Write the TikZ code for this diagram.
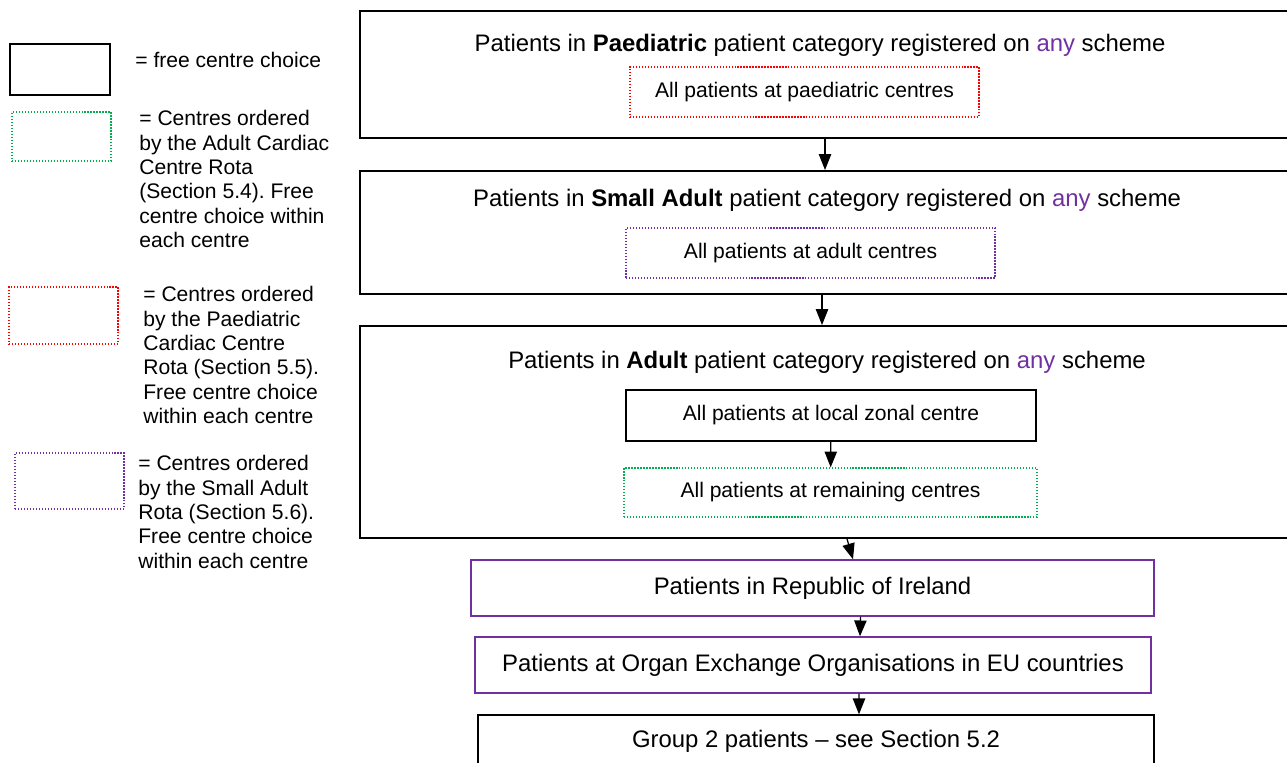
\documentclass[tikz,border=0pt]{standalone}
\usepackage{fontspec}
\setmainfont{Liberation Sans}
\usetikzlibrary{arrows.meta}
\definecolor{rotagreen}{RGB}{0,176,80}
\definecolor{rotared}{RGB}{255,0,0}
\definecolor{rotapurple}{RGB}{112,48,160}
\frenchspacing

\begin{document}
\begin{tikzpicture}[x=0.02cm, y=-0.02cm,
    every node/.append style={font=\fontsize{12}{13.9}\selectfont, inner sep=0pt},
    bigtext/.style={font=\fontsize{13.6}{15}\selectfont},
    bigbox/.style={draw, line width=1.1pt, minimum width=18.6cm},
    freebox/.style={draw, line width=0.8pt},
    adultrota/.style={draw=rotagreen, line width=0.7pt, dash pattern=on 0.7pt off 1pt},
    paedrota/.style={draw=rotared, line width=0.7pt, dash pattern=on 0.7pt off 1pt},
    smallrota/.style={draw=rotapurple, line width=0.7pt, dash pattern=on 0.7pt off 1pt},
    countrybox/.style={draw=rotapurple, line width=0.8pt, bigtext},
    legtext/.style={anchor=north west, align=left},
    flow/.style={-{Triangle[length=9pt,width=7pt]}, line width=0.7pt}]
        \clip (0,0) rectangle (1287,763);

        % legend
        \node [freebox, minimum width=2.0cm, minimum height=1.02cm] (L1) at (60,69.5) {};
        \node [anchor=west] (T1) at (135,60) {= free centre choice};
        \node [adultrota, minimum width=1.98cm, minimum height=0.98cm] (L2) at (61.5,136.5) {};
        \node [legtext] (T2) at (139,110) {= Centres ordered\\by the Adult Cardiac\\Centre Rota\\(Section 5.4). Free\\centre choice within\\each centre};
        \node [paedrota, minimum width=2.18cm, minimum height=1.14cm] (L3) at (63.5,315.5) {};
        \node [legtext] (T3) at (143,286) {= Centres ordered\\by the Paediatric\\Cardiac Centre\\Rota (Section 5.5).\\Free centre choice\\within each centre};
        \node [smallrota, minimum width=2.18cm, minimum height=1.12cm] (L4) at (69.5,481) {};
        \node [legtext] (T4) at (138,455) {= Centres ordered\\by the Small Adult\\Rota (Section 5.6).\\Free centre choice\\within each centre};

        % patient categories
        \node [bigbox, minimum height=2.54cm] (A) at (825,74.5) {};
        \node [bigtext] (AT) at (820,45) {Patients in \textbf{Paediatric} patient category registered on \textcolor{rotapurple}{any} scheme};
        \node [paedrota, minimum width=6.98cm, minimum height=1.0cm] (Apaed) at (804.5,92) {All patients at paediatric centres};

        \node [bigbox, minimum height=2.46cm] (B) at (825,232.5) {};
        \node [bigtext] (BT) at (827,200) {Patients in \textbf{Small Adult} patient category registered on \textcolor{rotapurple}{any} scheme};
        \node [smallrota, minimum width=7.38cm, minimum height=1.0cm] (Badult) at (810.5,253) {All patients at adult centres};

        \node [bigbox, minimum height=4.24cm] (C) at (825,432) {};
        \node [bigtext] (CT) at (827,362) {Patients in \textbf{Adult} patient category registered on \textcolor{rotapurple}{any} scheme};
        \node [freebox, minimum width=8.2cm, minimum height=1.02cm] (Clocal) at (831,415.5) {All patients at local zonal centre};
        \node [adultrota, minimum width=8.26cm, minimum height=0.98cm] (Crest) at (830.5,492.5) {All patients at remaining centres};

        % other groups
        \node [countrybox, minimum width=13.66cm, minimum height=1.12cm] (ROI) at (812.5,588) {Patients in Republic of Ireland};
        \node [countrybox, minimum width=13.52cm, minimum height=1.12cm] (EU) at (813,665) {Patients at Organ Exchange Organisations in EU countries};
        \node [freebox, bigtext, minimum width=13.52cm, minimum height=1.06cm] (G2) at (816,741.5) {Group 2 patients -- see Section 5.2};

        \draw [flow] (A) -- (B);
        \draw [flow] ([xshift=-0.06cm]B.south) -- ([xshift=-0.06cm]C.north);
        \draw [flow] (Clocal) -- (Crest);
        \draw [flow] ([xshift=0.44cm]C.south) -- ([xshift=0.81cm]ROI.north);
        \draw [flow] ([xshift=0.96cm]ROI.south) -- ([xshift=0.94cm]EU.north);
        \draw [flow] ([xshift=0.92cm]EU.south) -- ([xshift=0.86cm]G2.north);
    \end{tikzpicture}
\end{document}
